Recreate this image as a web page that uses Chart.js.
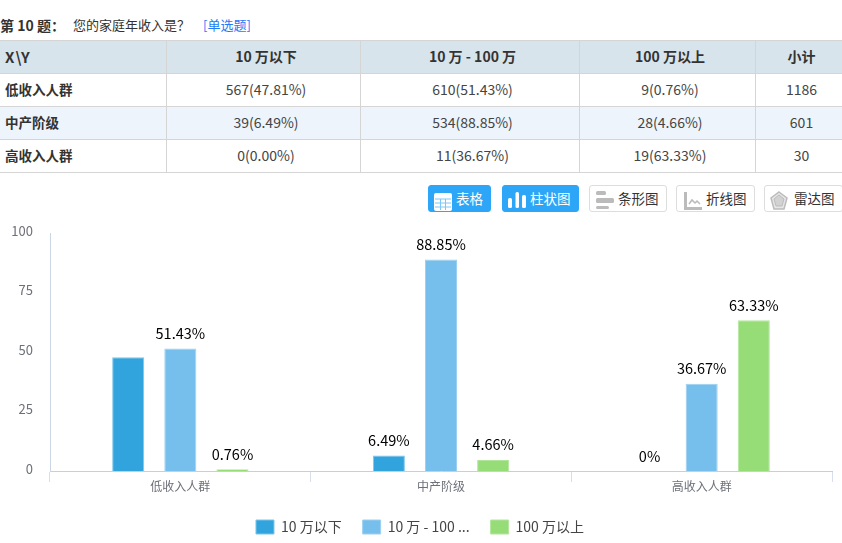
<!DOCTYPE html>
<html>
<head>
<meta charset="utf-8">
<script src="https://cdn.jsdelivr.net/npm/chart.js@4"></script>
<style>
html, body { margin: 0; padding: 0; background: #fff; }
body { width: 842px; height: 543px; overflow: hidden; position: relative; font-family: "Noto Sans CJK SC", sans-serif; color: #333; }
.title { position: absolute; top: 15px; left: 0; font-size: 13px; line-height: 20px; white-space: nowrap; }
.title b { position: absolute; left: 0; font-size: 14px; white-space: nowrap; }
.title span { position: absolute; left: 73px; white-space: nowrap; }
.title a { position: absolute; left: 203px; color: #1e7bf5; white-space: nowrap; }
table { position: absolute; left: -1px; top: 40px; border-collapse: collapse; table-layout: fixed; width: 843px; font-size: 14px; }
td, th { border: 1px solid #d5d5d5; height: 32px; padding: 0 0 2px 5px; text-align: center; color: #444; font-weight: normal; box-sizing: border-box; }
th { background: #d8e4ec; font-weight: bold; color: #333; }
td:first-child { text-align: left; padding-left: 5px; font-weight: bold; font-size: 13.500px; color: #333; }
th:first-child { text-align: left; padding-left: 5px; font-size: 15px; letter-spacing: 1px; color: #333; }
tr.alt td { background: #edf4fb; }
.btn { position: absolute; top: 185px; height: 27px; box-sizing: border-box; border-radius: 3px; font-size: 13.500px; line-height: 24px; white-space: nowrap; }
.btn.on { background: #2ea6f7; color: #fff; border: 1px solid #2ea6f7; }
.btn.off { background: #fff; color: #333; border: 1px solid #ddd; }
.btn svg { position: absolute; left: 5px; top: 0; }
.btn span { position: absolute; top: 0; }
#wrap { position: absolute; left: 0; top: 209px; width: 842px; height: 334px; overflow: hidden; }
canvas { display: block; }
</style>
</head>
<body>
<div class="title"><b>第 10 题：</b><span>您的家庭年收入是？</span><a>[单选题]</a></div>
<table id="crossTable"></table>

<div class="btn on" style="left:428px;width:63px"><svg width="20" height="26" viewBox="0 0 20 26"><rect x="0" y="7" width="18" height="18" rx="2" fill="#fff"/><path d="M1 13h16M1 17h16M1 21h16M6.500 13v11M11.500 13v11" stroke="#7cc8f9" stroke-width="1"/></svg><span style="left:27px">表格</span></div>
<div class="btn on" style="left:502px;width:77px"><svg width="20" height="26" viewBox="0 0 20 26"><rect x="0" y="12" width="4" height="10" rx="1.500" fill="#fff"/><rect x="7.500" y="6" width="3.500" height="16" rx="1.500" fill="#fff"/><rect x="14" y="9" width="4" height="13" rx="1.500" fill="#fff"/></svg><span style="left:27px">柱状图</span></div>
<div class="btn off" style="left:589px;width:78px"><svg width="20" height="26" viewBox="0 0 20 26"><rect x="1" y="5" width="10" height="4" rx="1.500" fill="#bbb"/><rect x="1" y="12" width="18" height="5" rx="1.500" fill="#bbb"/><rect x="1" y="20" width="13" height="3" rx="1.500" fill="#bbb"/></svg><span style="left:28px">条形图</span></div>
<div class="btn off" style="left:676px;width:79px"><svg width="20" height="26" viewBox="0 0 20 26"><path d="M3.500 6v16.500H21" fill="none" stroke="#bbb" stroke-width="3"/><path d="M7 18l3-4 3 3 2-2 3 3" fill="none" stroke="#bbb" stroke-width="1.500"/></svg><span style="left:29px">折线图</span></div>
<div class="btn off" style="left:764px;width:79px"><svg width="20" height="26" viewBox="0 0 20 26"><path d="M9 6l8 6-3 11H4L1 12z" fill="#e6e6e6" stroke="#bbb" stroke-width="1.500"/><path d="M9 9l5 4-2 7H6L4 13z" fill="#d2d2d2" stroke="#bbb"/></svg><span style="left:29px">雷达图</span></div>

<div id="wrap"><canvas id="barChart" width="842" height="335"></canvas></div>

<script>
// Sample Data
const categories = ['低收入人群', '中产阶级', '高收入人群'];
const seriesNames = ['10 万以下', '10 万 - 100 万', '100 万以上'];
const legendNames = ['10 万以下', '10 万 - 100 ...', '100 万以上'];
const under10 = [47.81, 6.49, 0];
const from10to100 = [51.43, 88.85, 36.67];
const over100 = [0.76, 4.66, 63.33];
const under10Labels = [null, '6.49%', '0%'];
const from10to100Labels = ['51.43%', '88.85%', '36.67%'];
const over100Labels = ['0.76%', '4.66%', '63.33%'];
const yTicks = [0, 25, 50, 75, 100];

const tableHead = ['X\\Y', '10 万以下', '10 万 - 100 万', '100 万以上', '小计'];
const tableLow = ['低收入人群', '567(47.81%)', '610(51.43%)', '9(0.76%)', '1186'];
const tableMid = ['中产阶级', '39(6.49%)', '534(88.85%)', '28(4.66%)', '601'];
const tableHigh = ['高收入人群', '0(0.00%)', '11(36.67%)', '19(63.33%)', '30'];
const colWidths = [167, 194, 219, 176, 87];

const colors = ['#32a4dd', '#76bfec', '#96dd78'];
const edges = ['#7cc6ea', '#9cd0f1', '#b3e69d'];

// Build the table
const table = document.getElementById('crossTable');
table.innerHTML =
    '<colgroup>' + colWidths.map(w => `<col style="width:${w}px">`).join('') + '</colgroup>' +
    '<tr style="height:33px">' + tableHead.map(c => `<th>${c}</th>`).join('') + '</tr>' +
    [tableLow, tableMid, tableHigh].map((row, i) =>
        `<tr style="height:33px" class="${i === 1 ? 'alt' : ''}">` + row.map(c => `<td>${c}</td>`).join('') + '</tr>'
    ).join('');

// Text above each bar
const barLabels = {
    id: 'barLabels',
    afterDatasetsDraw(chart) {
        const ctx = chart.ctx;
        const texts = [under10Labels, from10to100Labels, over100Labels];
        ctx.save();
        ctx.font = '14.5px "Noto Sans CJK SC"';
        ctx.fillStyle = '#000';
        ctx.textAlign = 'center';
        ctx.textBaseline = 'middle';
        texts.forEach((list, i) => {
            chart.getDatasetMeta(i).data.forEach((bar, j) => {
                if (list[j]) ctx.fillText(list[j], bar.x, bar.y - 15);
            });
        });
        ctx.restore();
    },
};

new Chart(document.getElementById('barChart').getContext('2d'), {
    type: 'bar',
    data: {
        labels: categories,
        datasets: [under10, from10to100, over100].map((values, i) => ({
            label: seriesNames[i],
            data: values,
            backgroundColor: colors[i],
            borderColor: edges[i],
            borderWidth: 1,
            categoryPercentage: 0.6,
            barPercentage: 0.615,
        })),
    },
    options: {
        responsive: false,
        animation: false,
        layout: { padding: { top: 24, left: 8, right: 10 } },
        scales: {
            x: {
                afterFit: scale => { scale.height = 28; },
                grid: { drawOnChartArea: false, color: '#d6dfeb', tickLength: 11 },
                border: { color: '#c3d0e2', width: 1 },
                ticks: { color: '#6e7079', font: { size: 12, family: 'Noto Sans CJK SC' }, padding: -3, maxRotation: 0 },
            },
            y: {
                min: 0,
                max: 100,
                afterFit: scale => { scale.width = 42; },
                afterBuildTicks: scale => { scale.ticks = yTicks.map(value => ({ value })); },
                grid: { display: false, drawTicks: false },
                border: { color: '#c8d6e5', width: 1 },
                // empty second line lifts the labels a little, as in the reference
                ticks: {
                    color: '#6e7079',
                    font: { size: 13, family: 'Noto Sans CJK SC', lineHeight: 0.3 },
                    padding: 17,
                    callback: value => [String(value), ''],
                },
            },
        },
        plugins: {
            tooltip: { enabled: false },
            legend: {
                position: 'bottom',
                onClick: null,
                labels: {
                    boxWidth: 18,
                    boxHeight: 14,
                    padding: 21,
                    color: '#444',
                    font: { size: 14, family: 'Noto Sans CJK SC' },
                    generateLabels: () => legendNames.map((text, i) => ({
                        text,
                        fillStyle: colors[i],
                        strokeStyle: edges[i],
                        lineWidth: 1,
                        fontColor: '#444',
                        datasetIndex: i,
                    })),
                },
            },
        },
    },
    plugins: [barLabels],
});
</script>
</body>
</html>
